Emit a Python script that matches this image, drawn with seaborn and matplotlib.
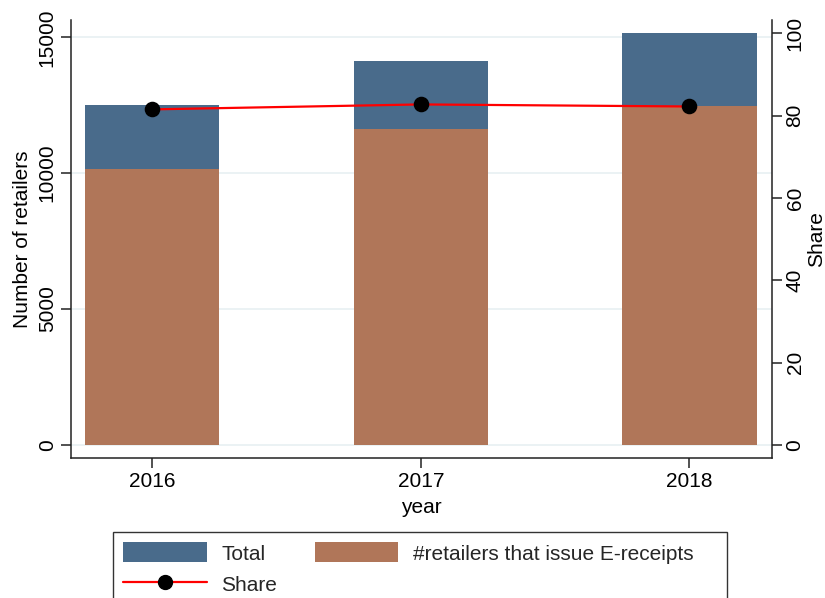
import numpy as np
import pandas as pd
import matplotlib
matplotlib.use("Agg")
import matplotlib.pyplot as plt
from matplotlib.patches import Patch, Rectangle
from matplotlib.lines import Line2D
import seaborn as sns

# Data
years = ["2016", "2017", "2018"]
total_retailers = [12500, 14140, 15170]
ereceipt_retailers = [10150, 11640, 12470]
share_pct = [81.5, 82.7, 82.2]

left_ticks = [0, 5000, 10000, 15000]
right_ticks = [0, 20, 40, 60, 80, 100]

df = pd.DataFrame({
    "year": years,
    "Total": total_retailers,
    "Ereceipts": ereceipt_retailers,
    "Share": share_pct,
})

sns.set_theme(style="white")
plt.rcParams["font.family"] = ["Liberation Sans", "DejaVu Sans"]
FS = 15

C_TOTAL = "#496b8b"
C_ER = "#b07659"
GRID = "#e8f0f2"
AX = "#222222"

fig = plt.figure(figsize=(8.25, 5.98), dpi=100)
ax = fig.add_axes([0.0857, 0.2336, 0.9354 - 0.0857, 0.9666 - 0.2336])

# Overlaid bars: total retailers behind, e-receipt issuers in front
sns.barplot(data=df, x="year", y="Total", color=C_TOTAL, width=0.5,
            saturation=1, ax=ax, zorder=2)
sns.barplot(data=df, x="year", y="Ereceipts", color=C_ER, width=0.5,
            saturation=1, ax=ax, zorder=3)
for p in ax.patches:
    p.set_edgecolor("none")

ax.set_ylim(-501, 15637)
ax.set_yticks(left_ticks)
ax.set_yticklabels([str(t) for t in left_ticks])
ax.set_xlim(-0.303, 2.306)
for y in left_ticks:
    ax.axhline(y, color=GRID, lw=1.2, zorder=1)

ax.set_xlabel("year", fontsize=FS, color="black", labelpad=4.6)
ax.set_ylabel("Number of retailers", fontsize=FS, color="black", labelpad=4)

# Share on the secondary axis
ax2 = ax.twinx()
sns.pointplot(data=df, x="year", y="Share", color="red", ax=ax2,
              markers="o", linewidth=1.6, markersize=10)
for ln in ax2.lines:
    ln.set_markerfacecolor("black")
    ln.set_markeredgecolor("black")
    ln.set_color("red")
ax2.set_ylim(-3.2, 103.2)
ax2.set_yticks(right_ticks)
ax2.set_yticklabels([str(t) for t in right_ticks])
ax2.set_xlim(-0.303, 2.306)
ax2.set_ylabel("Share", fontsize=FS, color="black", labelpad=2)
ax2.grid(False)

for a in (ax, ax2):
    for s in a.spines.values():
        s.set_visible(False)
    a.tick_params(axis="both", direction="out", length=7, width=1.1,
                  color=AX, labelsize=FS, labelcolor="black", pad=3)

ax.spines["left"].set_visible(True)
ax.spines["bottom"].set_visible(True)
ax2.spines["right"].set_visible(True)
for s in (ax.spines["left"], ax.spines["bottom"], ax2.spines["right"]):
    s.set_color(AX)
    s.set_linewidth(1.1)

ax.tick_params(axis="y", left=True, labelrotation=90)
ax.tick_params(axis="x", bottom=True)
for lbl in ax.get_yticklabels():
    lbl.set_va("center")
ax2.tick_params(axis="y", right=True, labelrotation=90)
for lbl in ax2.get_yticklabels():
    lbl.set_va("center")

handles = [
    Patch(facecolor=C_TOTAL, edgecolor="none", label="Total"),
    Line2D([0], [0], color="red", lw=1.6, marker="o", markersize=10,
           markerfacecolor="black", markeredgecolor="black", label="Share"),
    Patch(facecolor=C_ER, edgecolor="none", label="#retailers that issue E-receipts"),
]
leg = fig.legend(handles=handles, ncol=2, loc="upper left",
                 bbox_to_anchor=(113 / 825, 1 - 532 / 598),
                 fontsize=FS, frameon=False,
                 handlelength=4.0, handleheight=1.1, handletextpad=0.7,
                 columnspacing=1.8, labelspacing=0.5, borderpad=0.5,
                 borderaxespad=0)

# Legend frame, running past the bottom edge of the figure
x0, x1 = 113 / 825, 727 / 825
ytop = 1 - 532 / 598
fig.patches.append(Rectangle((x0, -0.05), x1 - x0, ytop + 0.05,
                             transform=fig.transFigure, fill=False,
                             edgecolor="#333333", linewidth=1.0))

fig.savefig("out.png", dpi=100, facecolor="white")
